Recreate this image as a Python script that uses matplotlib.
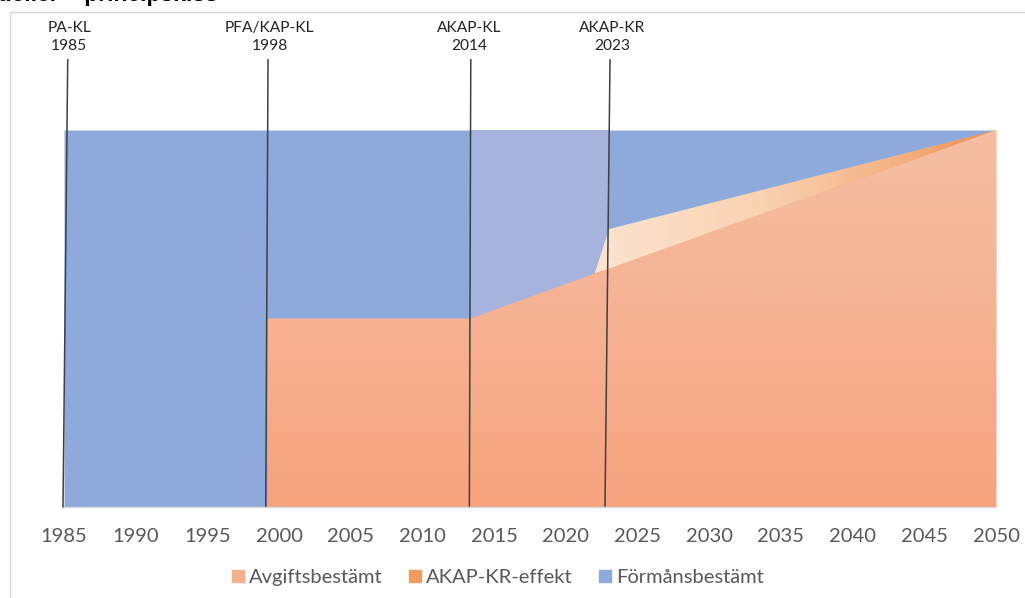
import numpy as np
import matplotlib
matplotlib.use("Agg")
import matplotlib.pyplot as plt
from matplotlib.colors import LinearSegmentedColormap
from matplotlib.lines import Line2D
from matplotlib.patches import Rectangle

# ---- data ----
years = [1985, 1999.2, 1999.2, 2013.3, 2022.0, 2023.0, 2050]
avgiftsbestamt = [0, 0, 50, 50, 62, 63.2, 100]
akap_kr_effekt = [0, 0, 0, 0, 0, 10.5, 0]
formansbestamt = [100, 100, 50, 50, 38, 26.3, 0]

event_labels = ["PA-KL\n1985", "PFA/KAP-KL\n1998", "AKAP-KL\n2014", "AKAP-KR\n2023"]
event_x_top = [1985.26, 1999.23, 2013.37, 2023.08]
event_x_bottom = [1984.93, 1999.07, 2013.27, 2022.73]
event_label_x = [1985.35, 1999.33, 2013.25, 2023.22]
highlight_span = (2013.3, 2023.0)
xticks = list(range(1985, 2051, 5))

series_names = ["Avgiftsbestämt", "AKAP-KR-effekt", "Förmånsbestämt"]
series_colors = ["#f5b090", "#f29b5e", "#8eaadc"]

plt.rcParams["font.family"] = ["Lato", "DejaVu Sans"]

fig = plt.figure(figsize=(10.25, 5.98), dpi=100)
ax = fig.add_axes([64 / 1025, 91 / 598, 932 / 1025, 377 / 598])

x = np.array(years)
y1 = np.array(avgiftsbestamt, dtype=float)
y2 = y1 + np.array(akap_kr_effekt, dtype=float)
y3 = y2 + np.array(formansbestamt, dtype=float)

p_orange = ax.fill_between(x, 0, y1, color=series_colors[0], lw=0, zorder=2)
p_akap = ax.fill_between(x, y1, y2, color=series_colors[1], lw=0, zorder=2)
p_blue = ax.fill_between(x, y2, y3, color=series_colors[2], lw=0, zorder=2)

# gradient overlays
ext = [1985, 2050, 0, 100]
vgrad = np.linspace(0, 1, 256).reshape(-1, 1)
cm_orange = LinearSegmentedColormap.from_list("o", ["#f7a37e", "#f5b293", "#f5bea3"])
im1 = ax.imshow(vgrad, extent=ext, origin="lower", aspect="auto", cmap=cm_orange, zorder=3)
im1.set_clip_path(p_orange.get_paths()[0], transform=ax.transData)

hgrad = np.linspace(0, 1, 256).reshape(1, -1)
cm_akap = LinearSegmentedColormap.from_list(
    "a", [(0, "#fce4cf"), (0.57, "#fce4cf"), (0.75, "#f9d2b2"), (0.9, "#f4b080"), (1.0, "#ee8f4e")])
im2 = ax.imshow(hgrad, extent=ext, origin="lower", aspect="auto", cmap=cm_akap, zorder=3)
im2.set_clip_path(p_akap.get_paths()[0], transform=ax.transData)

span = ax.axvspan(highlight_span[0], highlight_span[1], color="#a6b3de", lw=0, zorder=3)
span.set_clip_path(p_blue.get_paths()[0], transform=ax.transData)

ax.set_xlim(1985, 2050)
ax.set_ylim(0, 100)

# event lines and labels
y_top = 118.6
for lab, xt, xb, xl in zip(event_labels, event_x_top, event_x_bottom, event_label_x):
    ax.plot([xb, xt], [0, y_top], color="#404040", lw=1.1, clip_on=False, zorder=5)
    ax.text(xl, 120.3, lab, ha="center", va="bottom", fontsize=11.2,
            color="#262626", linespacing=1.45, clip_on=False)

ax.set_xticks(xticks)
ax.set_xticklabels([str(t) for t in xticks], fontsize=14.5, color="#595959")
ax.tick_params(axis="x", length=0, pad=15)
ax.set_yticks([])
for s in ["top", "left", "right"]:
    ax.spines[s].set_visible(False)
ax.spines["bottom"].set_color("#d9d9d9")
ax.spines["bottom"].set_linewidth(1)
ax.spines["bottom"].set_zorder(6)

handles = [Line2D([], [], marker="s", ls="none", markersize=9, markerfacecolor=c,
                  markeredgecolor=c) for c in series_colors]
fig.legend(handles, series_names, loc="center", bbox_to_anchor=(0.484, 1 - 577 / 598),
           ncol=3, frameon=False, fontsize=14.5, labelcolor="#595959",
           handletextpad=0.05, columnspacing=1.1, handlelength=1.0)

# chart border and clipped title
fig.add_artist(Rectangle((10 / 1025, -0.01), 1.2, (598 - 12) / 598 + 0.01,
                         transform=fig.transFigure, fill=False, edgecolor="#d9d9d9", lw=1))
fig.text(218 / 1025, 1 - 1.5 / 598, "Pensionsmodeller – principskiss", ha="right",
         va="baseline", fontsize=16.5, fontweight="bold", family="Liberation Sans",
         color="black")

fig.savefig("out.png", dpi=100)
